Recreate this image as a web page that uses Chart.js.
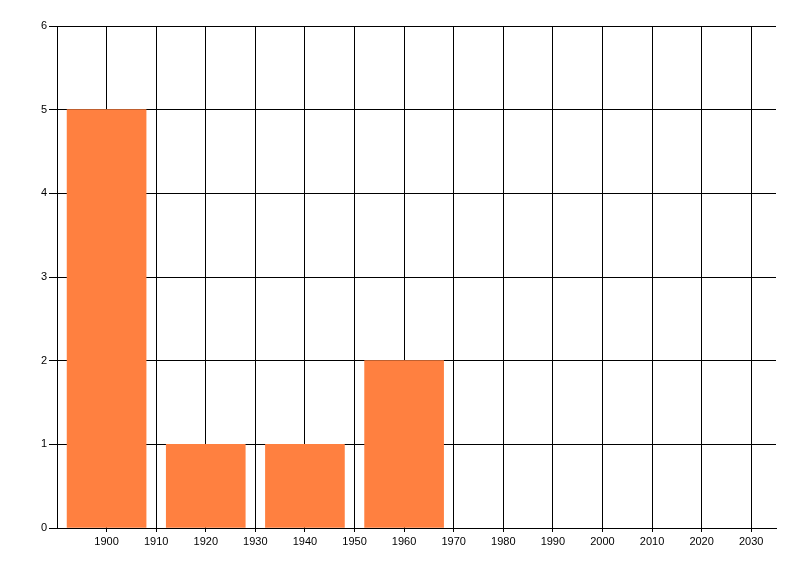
<!DOCTYPE html>
<html>
<head>
<meta charset="utf-8">
<script src="https://cdn.jsdelivr.net/npm/chart.js@4"></script>
<style>
  html, body { margin: 0; padding: 0; background: #fff; }
  #wrap { width: 800px; height: 576px; }
</style>
</head>
<body>
<div id="wrap"><canvas id="c" width="800" height="576"></canvas></div>
<script>
const years = [1900, 1920, 1940, 1960];
const counts = [5, 1, 1, 2];
const xMin = 1890, xMax = 2035, xStep = 10;
const yMin = 0, yMax = 6, yStep = 1;

const FONT = { family: '"Liberation Sans", Arial, sans-serif', size: 11 };

new Chart(document.getElementById('c'), {
  type: 'bar',
  data: {
    datasets: [{
      data: years.map((y, i) => ({ x: y, y: counts[i] })),
      backgroundColor: 'rgb(255,128,64)',
      borderWidth: 0,
      barThickness: 79
    }]
  },
  options: {
    responsive: false,
    animation: false,
    devicePixelRatio: 1,
    layout: { padding: { top: 26, right: 24, left: 0, bottom: 0 } },
    plugins: { legend: { display: false }, tooltip: { enabled: false } },
    scales: {
      x: {
        type: 'linear',
        min: xMin, max: xMax,
        offset: false,
        afterFit: s => { s.height = 48; },
        ticks: {
          stepSize: xStep,
          includeBounds: false,
          autoSkip: false,
          maxRotation: 0,
          padding: 3,
          color: '#000',
          font: FONT,
          callback: v => (v === xMin ? '' : String(v))
        },
        grid: {
          offset: false,
          color: ctx => (ctx.tick && ctx.tick.value === xMin ? 'rgba(0,0,0,0)' : '#000'),
          lineWidth: 1,
          drawTicks: true,
          tickLength: 4
        },
        border: { display: true, color: '#000', width: 1 }
      },
      y: {
        min: yMin, max: yMax,
        afterFit: s => { s.width = 57; },
        ticks: {
          stepSize: yStep,
          padding: 2,
          color: '#000',
          font: FONT
        },
        grid: {
          color: '#000',
          lineWidth: 1,
          drawTicks: true,
          tickLength: 8
        },
        border: { display: true, color: '#000', width: 1 }
      }
    }
  }
});
</script>
</body>
</html>
